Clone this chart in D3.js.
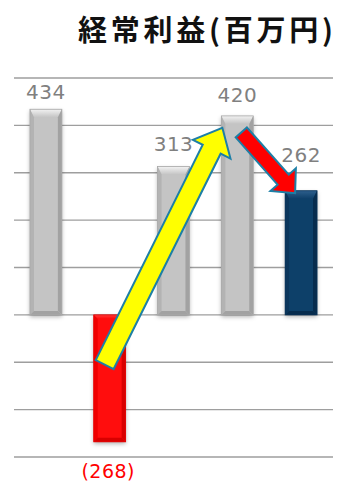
<!DOCTYPE html>
<html><head><meta charset="utf-8">
<script src="https://cdn.jsdelivr.net/npm/d3@7"></script>
<style>html,body{margin:0;padding:0;background:#fff;}svg{display:block;}</style>
</head><body>
<script>
const title = "経常利益(百万円)";
const categories = ["A", "B", "C", "D", "E"];
const values = [434, -268, 313, 420, 262];
const valueLabels = ["434", "(268)", "313", "420", "262"];
const yTicks = [-300, -200, -100, 0, 100, 200, 300, 400, 500];
// arrows: [category, value] for tail and tip
const arrowYellow = {from: ["B", -105], to: ["D", 395]};
const arrowRed = {from: ["D", 385], to: ["E", 257]};

const W = 344, H = 485;
const svg = d3.select("body").append("svg").attr("width", W).attr("height", H);
const defs = svg.append("defs");
const f = defs.append("filter").attr("id","sh").attr("x","-30%").attr("y","-10%").attr("width","160%").attr("height","130%");
f.append("feDropShadow").attr("dx",0).attr("dy",2).attr("stdDeviation",2).attr("flood-color","#000").attr("flood-opacity",0.3);

const x = d3.scaleBand().domain(categories).range([14, 333]).paddingInner(0.5).paddingOuter(0.25);
const y = d3.scaleLinear().domain([-300, 500]).range([457, 78]);

svg.append("text").attr("x", 78).attr("y", 41)
  .attr("font-family","'Noto Sans CJK JP'").attr("font-weight","bold").attr("font-size",29)
  .attr("textLength", 255).attr("lengthAdjust","spacing")
  .attr("fill","#111").text(title);

// gridlines
const grid = svg.append("g");
yTicks.forEach(t => {
  grid.append("line").attr("x1", 14).attr("x2", 333).attr("y1", y(t)).attr("y2", y(t))
    .attr("stroke", "#9e9e9e").attr("stroke-width", 1.3);
});

const palette = [
  {base:"#c4c4c4", light:"#f2f2f2", dark:"#a2a2a2", side:"#b3b3b3", stroke:"#a8a8a8"},
  {base:"#ff0a0a", light:"#ff3c3c", dark:"#d80000", side:"#f00000", stroke:"#e00000"},
  {base:"#c4c4c4", light:"#f2f2f2", dark:"#a2a2a2", side:"#b3b3b3", stroke:"#a8a8a8"},
  {base:"#c4c4c4", light:"#f2f2f2", dark:"#a2a2a2", side:"#b3b3b3", stroke:"#a8a8a8"},
  {base:"#0e3f69", light:"#2d5f8c", dark:"#072c4d", side:"#0a355b", stroke:"#0a3358"}
];

const bars = svg.append("g");
categories.forEach((c, i) => {
  const v = values[i], p = palette[i];
  const x0 = x(c), x1 = x(c) + x.bandwidth();
  const y0 = Math.min(y(v), y(0)), y1 = Math.max(y(v), y(0));
  const g = bars.append("g");
  g.append("rect").attr("x", x0).attr("y", y0).attr("width", x1-x0).attr("height", y1-y0)
    .attr("fill", p.base).attr("filter","url(#sh)");
  const b = 4, bt = v > 0 ? 8 : 4;
  const tg = "tg"+i;
  const lg = defs.append("linearGradient").attr("id", tg).attr("x1",0).attr("y1",0).attr("x2",0).attr("y2",1);
  lg.append("stop").attr("offset","0%").attr("stop-color", p.light);
  lg.append("stop").attr("offset","100%").attr("stop-color", p.base);
  g.append("polygon").attr("points", [[x0,y0],[x1,y0],[x1-b,y0+bt],[x0+b,y0+bt]].join(" ")).attr("fill", `url(#${tg})`);
  g.append("polygon").attr("points", [[x0,y0],[x0+b,y0+bt],[x0+b,y1-b],[x0,y1]].join(" ")).attr("fill", p.side);
  g.append("polygon").attr("points", [[x1,y0],[x1-b,y0+bt],[x1-b,y1-b],[x1,y1]].join(" ")).attr("fill", p.dark);
  g.append("polygon").attr("points", [[x0,y1],[x0+b,y1-b],[x1-b,y1-b],[x1,y1]].join(" ")).attr("fill", p.dark);
  g.append("rect").attr("x", x0).attr("y", y0).attr("width", x1-x0).attr("height", y1-y0)
    .attr("fill","none").attr("stroke", p.stroke).attr("stroke-width",0.8);
});

// value labels
const labelDy = [-10, 0, -16, -14, -29];
categories.forEach((c, i) => {
  const v = values[i];
  const cx = x(c) + x.bandwidth()/2 - (v >= 0 ? 0 : 1.5);
  const ty = v >= 0 ? y(v) + labelDy[i] : 478;
  svg.append("text").attr("x", cx).attr("y", ty).attr("text-anchor","middle")
    .attr("font-family","'DejaVu Sans'").attr("font-size", v >= 0 ? 20 : 19).attr("letter-spacing", 0.5)
    .attr("fill", v >= 0 ? "#808080" : "#ff0000").text(valueLabels[i]);
});

function arrow(a, shaftW, headW, headL, fill) {
  const fx = a.from[0] === "D" ? x(a.from[0]) + x.bandwidth()/2 + 4 : x(a.from[0]) + x.bandwidth()/2 - 5;
  const tx = a.to[0] === "D" ? x(a.to[0]) + 1 : x(a.to[0]) + x.bandwidth()/2 - 6;
  const p0 = [fx, y(a.from[1])], p1 = [tx, y(a.to[1])];
  const dx = p1[0]-p0[0], dy = p1[1]-p0[1], L = Math.hypot(dx, dy);
  const ux = dx/L, uy = dy/L, nx = -uy, ny = ux;
  const bx = p1[0] - ux*headL, by = p1[1] - uy*headL;
  const pt = (px, py, s) => [px + nx*s, py + ny*s];
  const pts = [pt(p0[0],p0[1],shaftW/2), pt(bx,by,shaftW/2), pt(bx,by,headW/2), p1,
               pt(bx,by,-headW/2), pt(bx,by,-shaftW/2), pt(p0[0],p0[1],-shaftW/2)];
  svg.append("polygon").attr("points", pts.map(p => p.join(",")).join(" "))
    .attr("fill", fill).attr("stroke", "#1d7fa6").attr("stroke-width", 2).attr("stroke-linejoin","miter");
}
arrow(arrowYellow, 20, 42, 24, "#ffff00");
arrow(arrowRed, 15, 34, 18, "#ff0000");
</script>
</body></html>
